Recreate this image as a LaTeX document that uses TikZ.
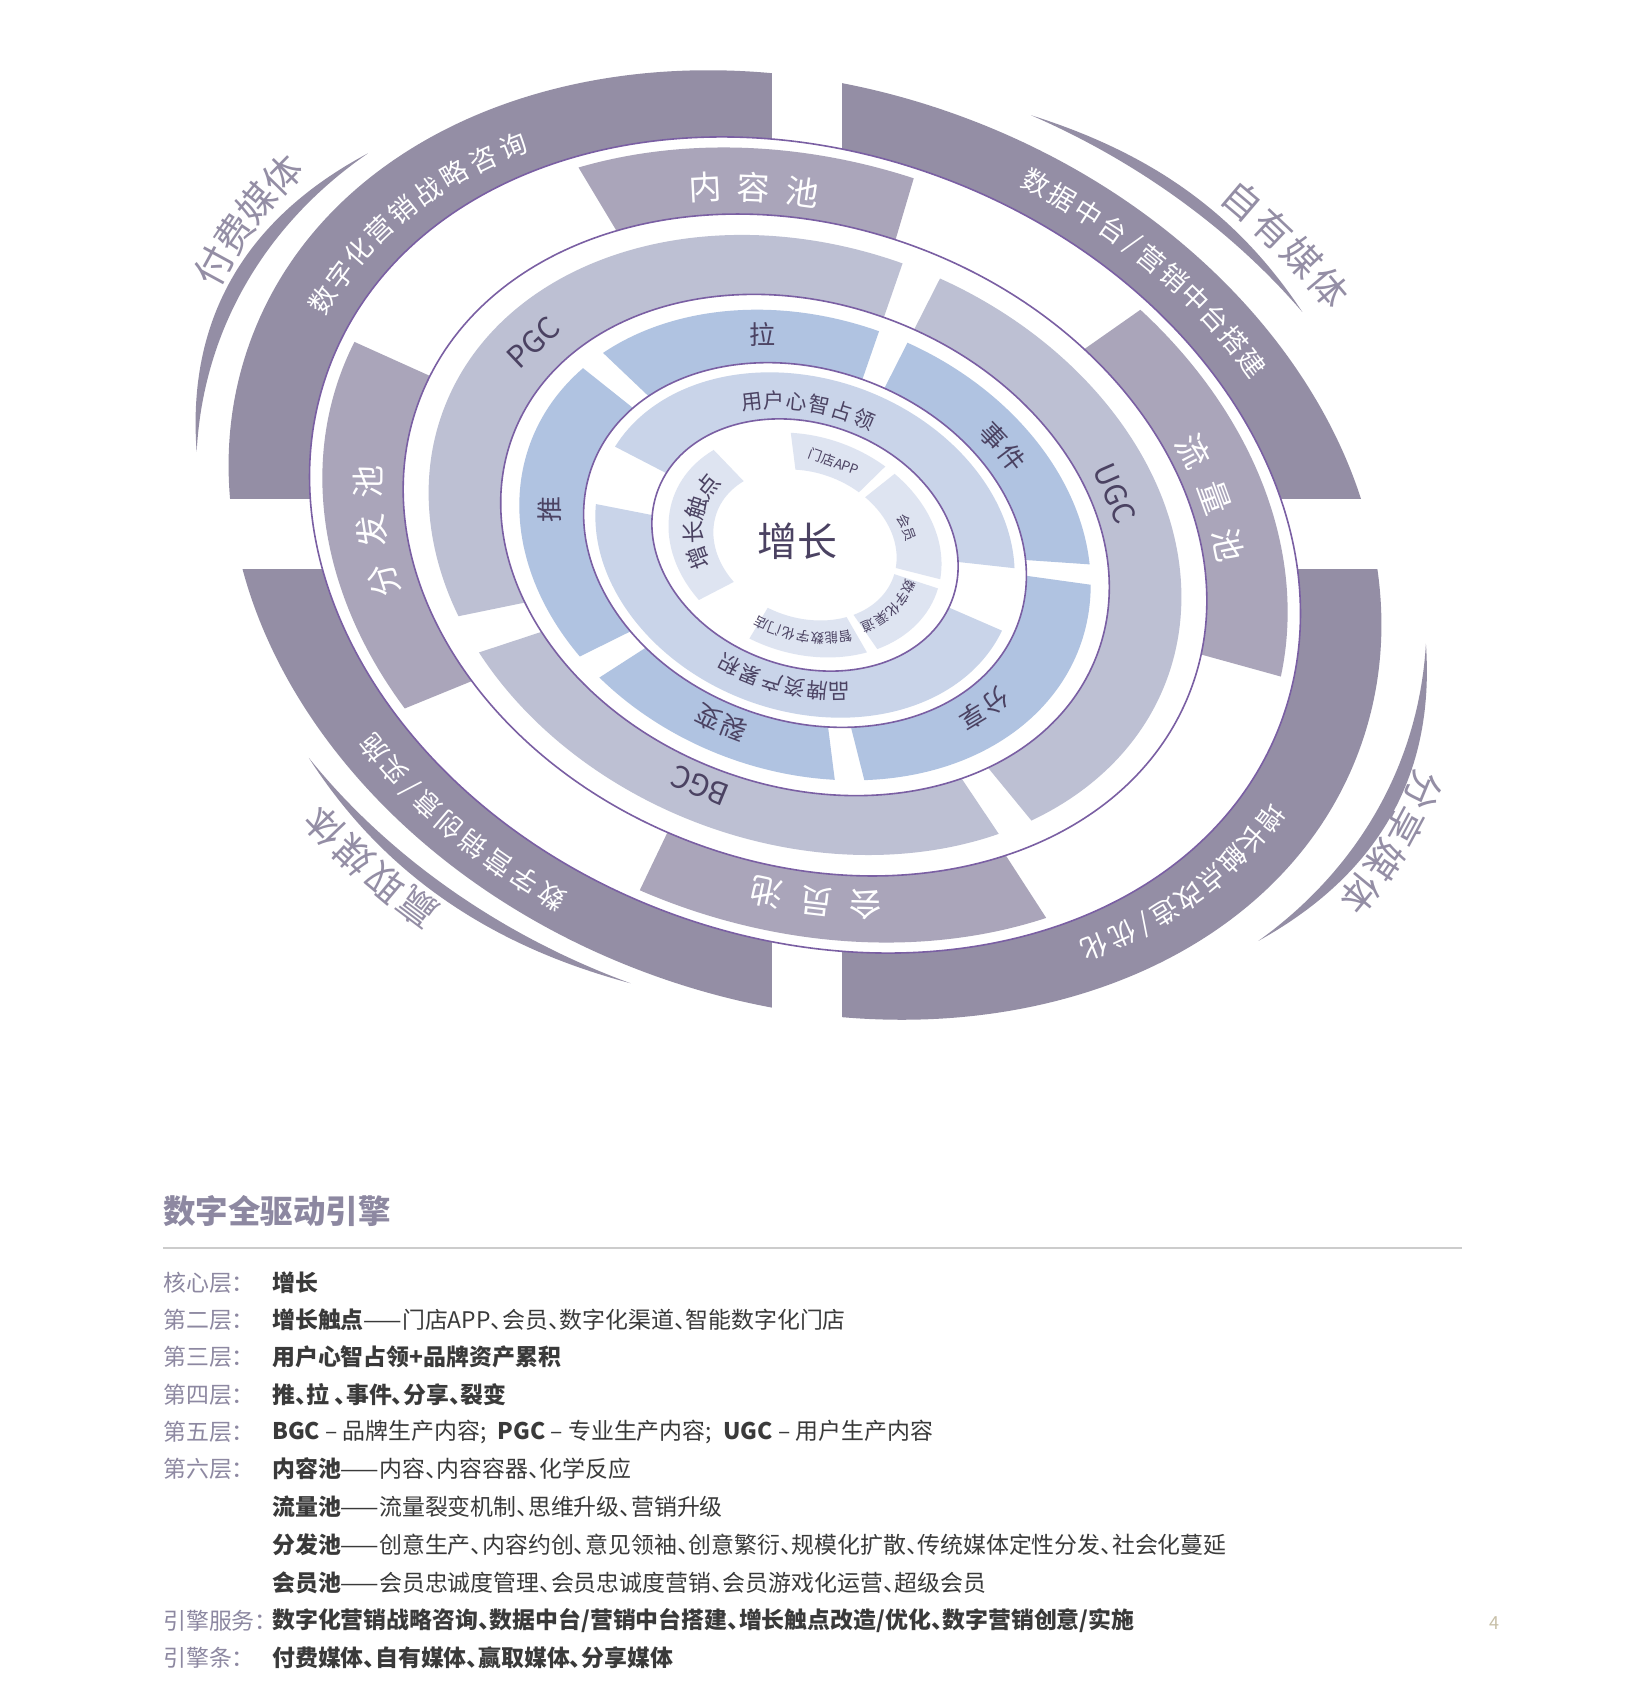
\documentclass[tikz,border=0pt]{standalone}
\usepackage{fontspec}
\setmainfont{Noto Sans CJK SC}
\newfontfamily\legfont{Noto Sans CJK SC}[RawFeature=+halt]
\definecolor{ringD}{HTML}{948EA5}
\definecolor{ring6}{HTML}{AAA5BA}
\definecolor{ring5}{HTML}{BDC0D3}
\definecolor{ring4}{HTML}{B0C3E1}
\definecolor{ring3}{HTML}{C9D4E9}
\definecolor{ring2}{HTML}{DEE4F1}
\definecolor{pline}{HTML}{7A5FA3}
\definecolor{tdark}{HTML}{4B4262}
\definecolor{legtxt}{HTML}{3A3A3A}
\definecolor{leglab}{HTML}{8D88A1}
\definecolor{pagenum}{HTML}{C8C0A8}
\def\kk{0.772}
\def\tilt{20.4}
\newcounter{nd}
\newcommand\sectorfill[5]{%
  \pgfmathsetmacro\sfyo{\kk*#3}%
  \pgfmathsetmacro\sfyi{\kk*#2}%
  \fill[#1] ({#3*cos(#4)},{\sfyo*sin(#4)}) arc[start angle=#4, end angle=#5, x radius=#3, y radius=\sfyo] -- ({#2*cos(#5)},{\sfyi*sin(#5)}) arc[start angle=#5, end angle=#4, x radius=#2, y radius=\sfyi] -- cycle;}
\newcommand\pline[1]{\pgfmathsetmacro\plb{\kk*#1}\draw[pline, line width=1.6pt] (0,0) ellipse[x radius=#1, y radius=\plb];}
\newcommand\crescent[5]{%
 \fill[ringD] plot[domain=#1:#2, samples=60, variable=\cx] ({(#3+(#4-(#3))*(\cx-(#1))/(#2-(#1))+#5*sin(180*(\cx-(#1))/(#2-(#1))))*cos(\cx)}, {\kk*(#3+(#4-(#3))*(\cx-(#1))/(#2-(#1))+#5*sin(180*(\cx-(#1))/(#2-(#1))))*sin(\cx)}) -- plot[domain=#2:#1, samples=60, variable=\cx] ({(#3+(#4-(#3))*(\cx-(#1))/(#2-(#1)))*cos(\cx)}, {\kk*(#3+(#4-(#3))*(\cx-(#1))/(#2-(#1)))*sin(\cx)}) -- cycle;}
\newcommand\ringtext[6]{%
  \pgfmathsetmacro\rtf{sqrt((sin(#2))^2+(\kk*cos(#2))^2)}%
  \pgfmathsetmacro\rtdt{#3/(#1*\rtf)*180/pi}%
  \foreach \ch [count=\ci] in {#6}{%
    \pgfmathsetmacro\rtt{#2-(\ci-(#4+1)/2)*\rtdt}%
    \pgfmathsetmacro\rtrot{atan2(-\kk*cos(\rtt),sin(\rtt))-\tilt}%
    \stepcounter{nd}%
    \node[#5, rotate=\rtrot] (c\arabic{nd}) at ({#1*cos(\rtt)},{\kk*#1*sin(\rtt)}) {\ch};
  }}
% weighted variant: list of weight/char
\newcommand\ringtextw[5]{%
  \pgfmathsetmacro\rtf{sqrt((sin(#2))^2+(\kk*cos(#2))^2)}%
  \pgfmathsetmacro\rtdt{#3/(#1*\rtf)*180/pi}%
  \gdef\rttot{0}%
  \foreach \w/\ch in {#5}{\pgfmathsetmacro\rttmp{\rttot+\w}\xdef\rttot{\rttmp}}%
  \gdef\rtacc{0}%
  \foreach \w/\ch in {#5}{%
    \pgfmathsetmacro\rtt{#2-(\rtacc+\w/2-\rttot/2)*\rtdt}%
    \pgfmathsetmacro\rtrot{atan2(-\kk*cos(\rtt),sin(\rtt))-\tilt}%
    \stepcounter{nd}%
    \node[#4, rotate=\rtrot] (c\arabic{nd}) at ({#1*cos(\rtt)},{\kk*#1*sin(\rtt)}) {\ch};
    \pgfmathsetmacro\rttmp{\rtacc+\w}\xdef\rtacc{\rttmp}%
  }}
\newcommand\ringlabel[4]{%
  \pgfmathsetmacro\rtrot{atan2(-\kk*cos(#2),sin(#2))-\tilt}%
  \stepcounter{nd}%
  \node[#3, rotate=\rtrot] (c\arabic{nd}) at ({#1*cos(#2)},{\kk*#1*sin(#2)}) {#4};}
\tikzset{
  dtext/.style={text=white, font=\fontsize{27}{27}\selectfont, inner sep=0},
  ctext/.style={text=ringD, font=\fontsize{38}{38}\selectfont, inner sep=0},
  ptext/.style={text=white, font=\fontsize{33}{33}\selectfont, inner sep=0},
  tfive/.style={text=tdark, font=\fontsize{30}{30}\selectfont, inner sep=0},
  tfour/.style={text=tdark, font=\fontsize{26}{26}\selectfont, inner sep=0},
  tthree/.style={text=tdark, font=\fontsize{21}{21}\selectfont, inner sep=0},
  ttwobig/.style={text=tdark, font=\fontsize{23}{23}\selectfont, inner sep=0},
  ttwo/.style={text=tdark, font=\fontsize{13.5}{13.5}\selectfont, inner sep=0},
  lab/.style={anchor=west, text=leglab, font=\legfont\fontsize{22.9}{23}\selectfont, inner sep=0},
  cont/.style={anchor=west, text=legtxt, font=\legfont\fontsize{22.9}{23}\selectfont, inner sep=0}
}
\begin{document}
\begin{tikzpicture}[x=1pt,y=1pt]
\useasboundingbox (0,0) rectangle (1636,-1708);
\fill[white] (0,0) rectangle (1636,-1708);
% outer dark ring and crescents
\begin{scope}[shift={(805,-545)}, rotate=-\tilt]
  \fill[ringD, even odd rule] (0,0) ellipse[x radius=591, y radius=456.25] (0,0) ellipse[x radius=508, y radius=392.18];
  \crescent{153}{195}{613}{624}{15}
  \crescent{52.8}{84.3}{637}{627}{15}
  \crescent{-26.1}{14.6}{627}{637}{15}
  \crescent{231}{269}{621}{611}{15}
\end{scope}
% quadrant gaps
\fill[white] (772,-40) rectangle (842,-1070);
\fill[white] (180,-499) rectangle (1450,-569);
\begin{scope}[shift={(805,-545)}, rotate=-\tilt]
  \pline{508}
  % layer 6 pools
  \sectorfill{ring6}{412}{495}{93}{134}
  \sectorfill{ring6}{412}{495}{6.4}{62}
  \sectorfill{ring6}{412}{495}{-94}{-44}
  \sectorfill{ring6}{412}{495}{175}{230}
  \pline{412}
  % layer 5
  \sectorfill{ring5}{312}{386}{91}{219}
  \sectorfill{ring5}{312}{386}{-37}{85}
  \sectorfill{ring5}{312}{386}{226}{317}
  \pline{312}
  % layer 4
  \sectorfill{ring4}{227}{293}{91}{151}
  \sectorfill{ring4}{227}{293}{157}{234}
  \sectorfill{ring4}{227}{293}{240}{292}
  \sectorfill{ring4}{227}{293}{298}{376}
  \sectorfill{ring4}{227}{293}{21}{85}
  \pline{227}
  % layer 3
  \sectorfill{ring3}{157}{215}{18}{171}
  \sectorfill{ring3}{157}{215}{192}{356}
  \pline{157}
  % layer 2
  \sectorfill{ring2}{94}{140}{148}{235}
  \sectorfill{ring2}{94}{140}{262}{313}
  \sectorfill{ring2}{94}{140}{318}{363}
  \sectorfill{ring2}{94}{140}{8}{65}
  \sectorfill{ring2}{94}{140}{70}{112}
  % texts: outer ring
  \ringtext{543}{155.5}{31}{9}{dtext}{数,字,化,营,销,战,略,咨,询}
  \ringtextw{552}{65.3}{29.6}{dtext}{1/数,1/据,1/中,1/台,0.6/\slash,1/营,1/销,1/中,1/台,1/搭,1/建}
  \ringtextw{545}{-26.9}{28.9}{dtext}{1/增,1/长,1/触,1/点,1/改,1/造,0.6/\slash,1/优,1/化}
  \ringtextw{553}{245.5}{30.7}{dtext}{1/数,1/字,1/营,1/销,1/创,1/意,0.6/\slash,1/实,1/施}
  % crescent labels
  \ringtext{655}{167.3}{38}{4}{ctext}{付,费,媒,体}
  \ringtext{680}{59.3}{41}{4}{ctext}{自,有,媒,体}
  \ringtext{665}{-8.3}{40}{4}{ctext}{分,享,媒,体}
  \ringtext{660}{243.4}{41}{4}{ctext}{赢,取,媒,体}
  % pools
  \ringtext{446}{112.8}{49}{3}{ptext}{内,容,池}
  \ringtext{440}{33.4}{50}{3}{ptext}{流,量,池}
  \ringtext{448}{-72.5}{50}{3}{ptext}{会,员,池}
  \ringtext{448}{203.5}{50}{3}{ptext}{分,发,池}
  % layer 5 labels
  \ringlabel{348}{159.3}{tfive}{PGC}
  \ringlabel{340}{36.7}{tfive}{UGC}
  \ringlabel{340}{-92.5}{tfive}{BGC}
  % layer 4 labels
  \ringlabel{262}{115.7}{tfour}{拉}
  \ringlabel{262}{195.9}{tfour}{推}
  \ringtext{258}{54}{28}{2}{tfour}{事,件}
  \ringtext{255}{-27.7}{28}{2}{tfour}{分,享}
  \ringtext{255}{-93.8}{28}{2}{tfour}{裂,变}
  % layer 3 labels
  \ringtext{180}{105}{23}{6}{tthree}{用,户,心,智,占,领}
  \ringtext{182}{-81}{23}{6}{tthree}{品,牌,资,产,累,积}
  % layer 2 labels
  \ringtext{115}{189.9}{25}{4}{ttwobig}{增,长,触,点}
  \ringlabel{114}{90.9}{ttwo}{门店APP}
  \ringtext{112}{37}{14.5}{2}{ttwo}{会,员}
  \ringtext{112}{-20.2}{14.5}{5}{ttwo}{数,字,化,渠,道}
  \ringtext{116}{-75}{14.5}{7}{ttwo}{智,能,数,字,化,门,店}
\end{scope}
\node[text=tdark, font=\fontsize{40}{40}\selectfont, inner sep=0] (core) at (797,-541) {增长};
% legend
\node[anchor=west, text=leglab, font=\legfont\fontsize{32.5}{33}\selectfont\bfseries, inner sep=0] (title) at (163,-1211) {数字全驱动引擎};
\coordinate (ruleA) at (163,-1248);
\coordinate (ruleB) at (1462,-1248);
\draw[color=black!20, line width=1.5pt] (ruleA) -- (ruleB);
\node[lab] (l1) at (163,-1283) {核心层：};
\node[cont] (r1) at (272,-1283) {\bfseries 增长};
\node[lab] (l2) at (163,-1320) {第二层：};
\node[cont] (r2) at (272,-1320) {{\bfseries 增长触点}——门店APP、会员、数字化渠道、智能数字化门店};
\node[lab] (l3) at (163,-1357) {第三层：};
\node[cont] (r3) at (272,-1357) {\bfseries 用户心智占领+品牌资产累积};
\node[lab] (l4) at (163,-1395) {第四层：};
\node[cont] (r4) at (272,-1395) {\bfseries 推、拉 、事件、分享、裂变};
\node[lab] (l5) at (163,-1432) {第五层：};
\node[cont] (r5) at (272,-1432) {{\bfseries BGC} – 品牌生产内容;\hspace{0.5em}{\bfseries PGC} – 专业生产内容;\hspace{0.5em}{\bfseries UGC} – 用户生产内容};
\node[lab] (l6) at (163,-1469) {第六层：};
\node[cont] (r6) at (272,-1469) {{\bfseries 内容池}——内容、内容容器、化学反应};
\node[cont] (r7) at (272,-1507) {{\bfseries 流量池}——流量裂变机制、思维升级、营销升级};
\node[cont] (r8) at (272,-1545) {{\bfseries 分发池}——创意生产、内容约创、意见领袖、创意繁衍、规模化扩散、传统媒体定性分发、社会化蔓延};
\node[cont] (r9) at (272,-1583) {{\bfseries 会员池}——会员忠诚度管理、会员忠诚度营销、会员游戏化运营、超级会员};
\node[lab] (l10) at (163,-1621) {引擎服务：};
\node[cont] (r10) at (272,-1621) {\bfseries 数字化营销战略咨询、数据中台/营销中台搭建、增长触点改造/优化、数字营销创意/实施};
\node[lab] (l11) at (163,-1658) {引擎条：};
\node[cont] (r11) at (272,-1658) {\bfseries 付费媒体、自有媒体、赢取媒体、分享媒体};
\node[text=pagenum, font=\fontsize{18}{18}\selectfont, inner sep=0] (pg) at (1494,-1623) {4};
\end{tikzpicture}
\end{document}
